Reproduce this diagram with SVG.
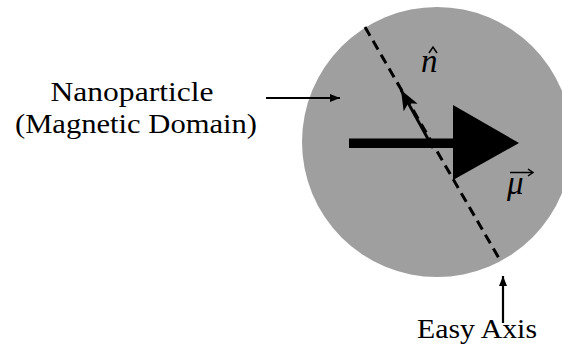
<svg xmlns="http://www.w3.org/2000/svg" width="562" height="356" viewBox="0 0 562 356">
<style>
.lbl{font-family:"Liberation Serif","DejaVu Serif",serif;font-size:27px;fill:#000}
.math{font-family:"Liberation Serif","DejaVu Serif",serif;font-style:italic;fill:#000}
.thin{stroke:#000;stroke-width:2.2;fill:none}
</style>
<defs>
<marker id="ah" viewBox="0 0 10 8" refX="10" refY="4" markerWidth="10" markerHeight="8" markerUnits="userSpaceOnUse" orient="auto">
<path d="M0,0 L10,4 L0,8 Z" fill="#000"/>
</marker>
<marker id="ahn" viewBox="0 0 20 16" refX="20" refY="8" markerWidth="20" markerHeight="16" markerUnits="userSpaceOnUse" orient="auto">
<path d="M0,0 L20,8 L0,16 L5,8 Z" fill="#000"/>
</marker>
</defs>
<g id="particle">
<circle cx="437" cy="142" r="135" fill="#9f9f9f"/>
</g>
<g id="axis">
<line x1="365" y1="27" x2="500" y2="260" stroke="#000" stroke-width="3" stroke-dasharray="10,6"/>
</g>
<g id="moment">
<rect x="349" y="138.5" width="106" height="9.5" fill="#000"/>
<path d="M453,105 L519,143 L453,180 Z" fill="#000"/>
</g>
<g id="normal">
<line x1="433" y1="148" x2="401" y2="90" stroke="#000" stroke-width="2.8" marker-end="url(#ahn)"/>
</g>
<g id="labels">
<text class="math" x="421" y="72" font-size="33">n</text>
<path d="M429,53 L433,47 L437,53" fill="none" stroke="#000" stroke-width="1.5"/>
<text class="math" x="507" y="194" font-size="33">μ</text>
<line x1="510" y1="172.5" x2="532" y2="172.5" stroke="#000" stroke-width="1.5"/>
<path d="M528,169 L533,172.5 L528,176" fill="none" stroke="#000" stroke-width="1.5"/>
</g>
<g id="nanoparticle-label">
<text class="lbl" x="132" y="101" text-anchor="middle" textLength="163" lengthAdjust="spacingAndGlyphs">Nanoparticle</text>
<text class="lbl" x="136" y="133" text-anchor="middle" textLength="242" lengthAdjust="spacingAndGlyphs">(Magnetic Domain)</text>
</g>
<g id="easy-axis-label">
<text class="lbl" x="477" y="338" text-anchor="middle" textLength="120" lengthAdjust="spacingAndGlyphs">Easy Axis</text>
</g>
<g id="connectors">
<line class="thin" x1="266" y1="98" x2="340" y2="98" marker-end="url(#ah)"/>
<line class="thin" x1="503" y1="323" x2="503" y2="276" marker-end="url(#ah)"/>
</g>
</svg>
